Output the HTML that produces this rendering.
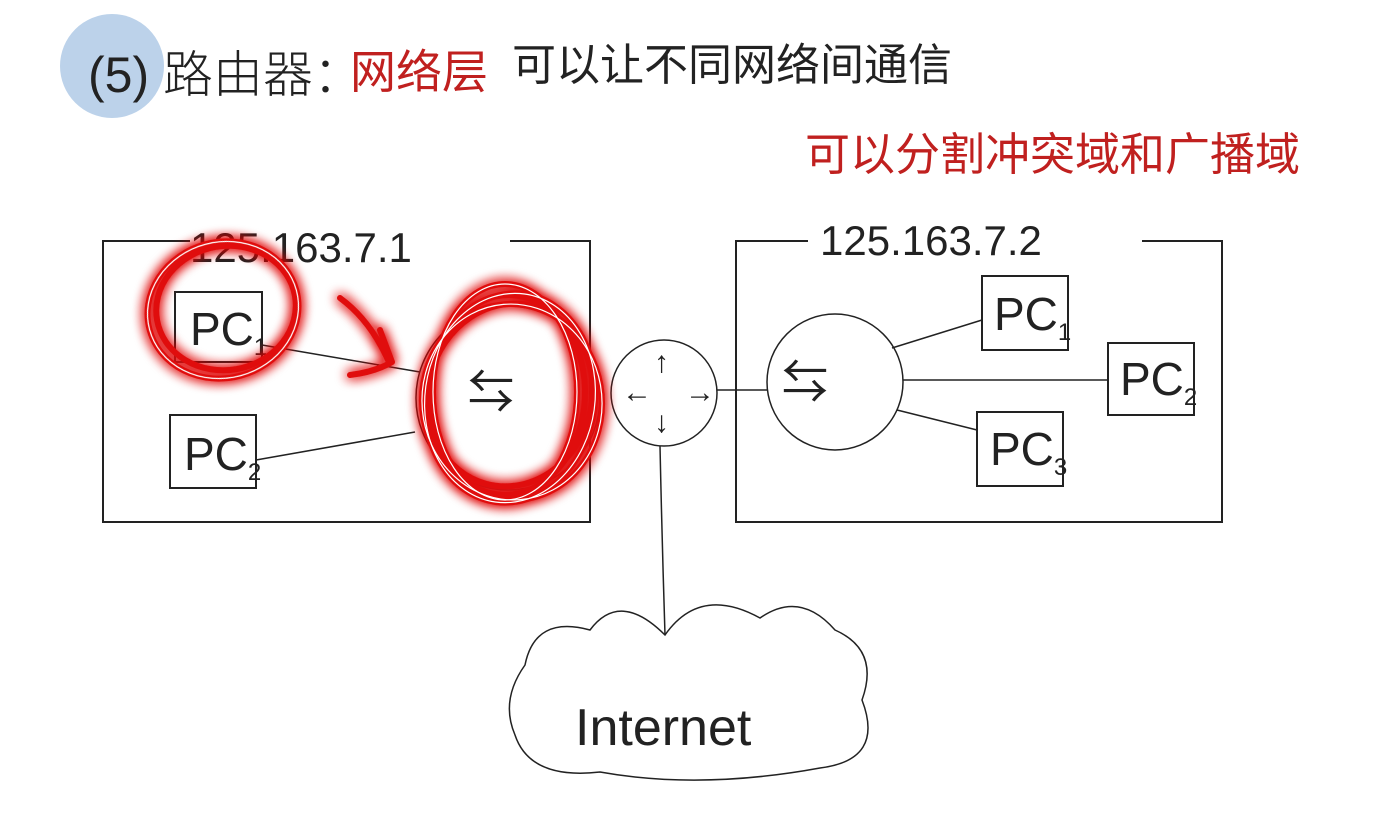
<!DOCTYPE html>
<html><head><meta charset="utf-8">
<style>
html,body{margin:0;padding:0;background:#fff;width:1378px;height:837px;overflow:hidden}
svg{display:block}
text{font-family:"Liberation Sans","Noto Sans CJK SC",sans-serif}
</style></head><body>
<svg width="1378" height="837" viewBox="0 0 1378 837" xmlns="http://www.w3.org/2000/svg">
<defs>
<filter id="glow" x="-30%" y="-30%" width="160%" height="160%">
<feGaussianBlur stdDeviation="6" result="b"/>
<feMerge><feMergeNode in="b"/><feMergeNode in="b"/><feMergeNode in="SourceGraphic"/></feMerge>
</filter>
</defs>
<rect width="1378" height="837" fill="#fff"/>
<circle cx="112" cy="66" r="52" fill="#bcd2ea"/>
<text x="88" y="92" font-size="50" fill="#222" font-weight="300">(5) 路由器：</text>
<text x="350" y="88" font-size="46" fill="#c0201f">网络层</text>
<text x="512" y="80" font-size="44" fill="#222">可以让不同网络间通信</text>
<text x="805" y="170" font-size="45" fill="#c0201f">可以分割冲突域和广播域</text>
<g stroke="#222" stroke-width="2" fill="none">
<polyline points="190,241 103,241 103,522 590,522 590,241 510,241"/>
<polyline points="808,241 736,241 736,522 1222,522 1222,241 1142,241"/>
<rect x="175" y="292" width="87" height="70"/>
<rect x="170" y="415" width="86" height="73"/>
<rect x="982" y="276" width="86" height="74"/>
<rect x="1108" y="343" width="86" height="72"/>
<rect x="977" y="412" width="86" height="74"/>
<circle cx="508" cy="398" r="92" stroke-width="1.5"/>
<circle cx="664" cy="393" r="53" stroke-width="1.5"/>
<circle cx="835" cy="382" r="68" stroke-width="1.5"/>
<line x1="262" y1="345" x2="420" y2="372" stroke-width="1.5"/>
<line x1="256" y1="460" x2="415" y2="432" stroke-width="1.5"/>
<line x1="717" y1="390" x2="767" y2="390" stroke-width="1.5"/>
<line x1="892" y1="348" x2="982" y2="320" stroke-width="1.5"/>
<line x1="903" y1="380" x2="1108" y2="380" stroke-width="1.5"/>
<line x1="897" y1="410" x2="977" y2="430" stroke-width="1.5"/>
<path d="M660 446 Q662 540 665 635" stroke-width="1.5"/>
<path d="M525 665 Q535 615 590 630 Q620 590 665 635 Q700 585 760 618 Q800 590 835 630 Q880 650 862 700 Q885 760 820 768 Q700 790 600 772 Q530 780 515 735 Q500 700 525 665 Z" stroke-width="1.5"/>
</g>
<g font-size="46" fill="#222">
<text x="190" y="345">PC<tspan font-size="24" dy="10">1</tspan></text>
<text x="184" y="470">PC<tspan font-size="24" dy="10">2</tspan></text>
<text x="994" y="330">PC<tspan font-size="24" dy="10">1</tspan></text>
<text x="1120" y="395">PC<tspan font-size="24" dy="10">2</tspan></text>
<text x="990" y="465">PC<tspan font-size="24" dy="10">3</tspan></text>
</g>
<text x="190" y="262" font-size="42" fill="#222">125.163.7.1</text>
<text x="820" y="255" font-size="42" fill="#222">125.163.7.2</text>
<text x="575" y="745" font-size="52" fill="#222">Internet</text>
<g font-size="46" fill="#222">
<text x="468" y="408">⇆</text>
<text x="782" y="398">⇆</text>
</g>
<g font-size="30" fill="#222">
<text x="654" y="372">↑</text>
<text x="654" y="432">↓</text>
<text x="622" y="402">←</text>
<text x="685" y="402">→</text>
</g>
<g stroke="#e01010" fill="none" filter="url(#glow)" stroke-width="6" stroke-linecap="round">
<ellipse cx="223" cy="310" rx="76" ry="68" transform="rotate(-15 223 310)"/>
<ellipse cx="226" cy="308" rx="70" ry="62" transform="rotate(-10 226 308)"/>
<path d="M340 298 Q370 320 388 360 M350 375 Q375 372 392 362 M380 330 L392 362"/>
<ellipse cx="510" cy="398" rx="85" ry="105" transform="rotate(8 510 398)"/>
<ellipse cx="507" cy="395" rx="78" ry="100" transform="rotate(3 507 395)"/>
<ellipse cx="512" cy="402" rx="90" ry="98" transform="rotate(-5 512 402)"/>
<ellipse cx="505" cy="392" rx="72" ry="108"/>
<ellipse cx="510" cy="395" rx="82" ry="92" transform="rotate(15 510 395)"/>
</g>
<g stroke="#fff" fill="none" stroke-width="1.2">
<ellipse cx="223" cy="310" rx="76" ry="68" transform="rotate(-15 223 310)"/>
<ellipse cx="510" cy="398" rx="85" ry="105" transform="rotate(8 510 398)"/>
<ellipse cx="505" cy="392" rx="72" ry="108"/>
<ellipse cx="512" cy="402" rx="90" ry="98" transform="rotate(-5 512 402)"/>
</g>
</svg>
</body></html>
